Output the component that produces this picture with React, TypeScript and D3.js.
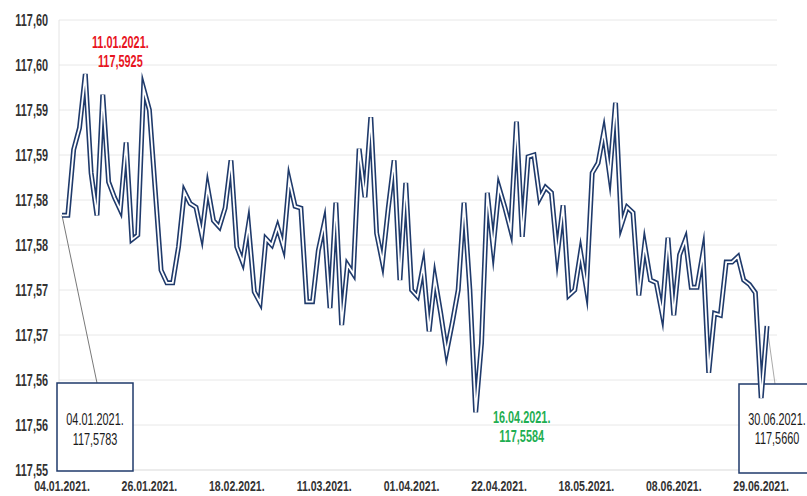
import React from "react";
import * as d3 from "d3";

// EUR/RSD middle rate, business days 04.01.2021 – 30.06.2021
const startDate = "2021-01-04";
const endDate = "2021-06-30";
const holidays = ["2021-01-07", "2021-02-15", "2021-02-16", "2021-04-30", "2021-05-03", "2021-05-04"];

const rates = [
  117.5783, 117.5783, 117.5856, 117.588, 117.594, 117.583, 117.5783, 117.5917, 117.582, 117.5803,
  117.5789, 117.5864, 117.5756, 117.5761, 117.5924, 117.59, 117.5811, 117.5722, 117.5708, 117.5708,
  117.5748, 117.5809, 117.5796, 117.5792, 117.5761, 117.5814, 117.5777, 117.577, 117.5791, 117.5844,
  117.5748, 117.5731, 117.5772, 117.5698, 117.5686, 117.5757, 117.575, 117.577, 117.5748, 117.5822,
  117.5793, 117.5791, 117.5687, 117.5687, 117.5744, 117.5774, 117.568, 117.5797, 117.5661, 117.5728,
  117.5718, 117.5857, 117.5803, 117.5892, 117.5763, 117.5731, 117.5791, 117.5844, 117.5711, 117.5819,
  117.57, 117.5693, 117.5727, 117.5654, 117.5713, 117.5674, 117.5631, 117.5664, 117.57, 117.5797,
  117.57, 117.5564, 117.5641, 117.5808, 117.5747, 117.5814, 117.5792, 117.5767, 117.5887, 117.5759,
  117.5848, 117.585, 117.5802, 117.5814, 117.5808, 117.5739, 117.5794, 117.5694, 117.57, 117.5742,
  117.5702, 117.583, 117.5841, 117.5876, 117.5828, 117.5908, 117.5772, 117.5792, 117.5786, 117.5694,
  117.575, 117.5711, 117.5708, 117.5674, 117.5758, 117.5672, 117.5739, 117.5756, 117.5703, 117.5703,
  117.5741, 117.5608, 117.5674, 117.5672, 117.5731, 117.5731, 117.5737, 117.5711, 117.5706, 117.5697,
  117.558, 117.566,
];

const yTickValues = [117.6, 117.595, 117.59, 117.585, 117.58, 117.575, 117.57, 117.565, 117.56, 117.555, 117.55];
const yTickLabels = ["117,60", "117,60", "117,59", "117,59", "117,58", "117,58", "117,57", "117,57", "117,56", "117,56", "117,55"];
const xTickLabels = ["04.01.2021.", "26.01.2021.", "18.02.2021.", "11.03.2021.", "01.04.2021.", "22.04.2021.", "18.05.2021.", "08.06.2021.", "29.06.2021."];

const maxNote = { date: "11.01.2021.", value: "117,5925" };
const minNote = { date: "16.04.2021.", value: "117,5584" };
const firstNote = { date: "04.01.2021.", value: "117,5783" };
const lastNote = { date: "30.06.2021.", value: "117,5660" };

const parse = d3.timeParse("%Y-%m-%d");
const fmtKey = d3.timeFormat("%Y-%m-%d");
const fmtLabel = d3.timeFormat("%d.%m.%Y.");

const dates: string[] = d3.timeDay
  .range(parse(startDate) as Date, d3.timeDay.offset(parse(endDate) as Date, 1))
  .filter((d) => d.getDay() !== 0 && d.getDay() !== 6 && !holidays.includes(fmtKey(d)))
  .map((d) => fmtLabel(d));

const W = 807;
const H = 496;
const FONT = "'Liberation Sans', Arial, sans-serif";
const SX = 0.68;

function T({ x, y, anchor = "middle", size = 16, weight = 400, fill = "#222", children }: any) {
  return (
    <text
      transform={`translate(${x},${y}) scale(${SX},1)`}
      textAnchor={anchor}
      fontFamily={FONT}
      fontSize={size}
      fontWeight={weight}
      fill={fill}
    >
      {children}
    </text>
  );
}

export default function App() {
  const n = Math.min(dates.length, rates.length);
  const idx = d3.range(n);
  const x = d3.scalePoint<number>().domain(idx).range([62, 767]);
  const y = d3.scaleLinear().domain([117.55, 117.6]).range([470, 20]);
  const plotL = 59;
  const plotR = 777;

  const line = d3
    .line<number>()
    .x((i) => x(i) as number)
    .y((i) => y(rates[i]));
  const path = line(idx) || "";

  const iMax = dates.indexOf(maxNote.date);
  const iMin = dates.indexOf(minNote.date);
  const iFirst = 0;
  const iLast = n - 1;

  const xFirst = x(iFirst) as number;
  const xLast = x(iLast) as number;

  return (
    <svg width={W} height={H} style={{ position: "absolute", left: 0, top: 0, background: "#fff" }}>
      <rect x={0} y={0} width={W} height={H} fill="#fff" />
      {/* grid */}
      {yTickValues.map((v, k) => (
        <line key={"g" + k} x1={plotL} x2={plotR} y1={y(v)} y2={y(v)} stroke={k === yTickValues.length - 1 ? "#d9d9d9" : "#e8e8e8"} strokeWidth={1} />
      ))}
      <line x1={plotL} x2={plotL} y1={y(117.6)} y2={y(117.55)} stroke="#e4e4e4" strokeWidth={1} />

      {/* y labels */}
      {yTickValues.map((v, k) => (
        <T key={"yl" + k} x={48} y={y(v) + 6} anchor="end" weight={700} fill="#333">
          {yTickLabels[k]}
        </T>
      ))}

      {/* x labels */}
      {xTickLabels.map((lab, k) => {
        const i = dates.indexOf(lab);
        if (i < 0) return null;
        return (
          <T key={"xl" + k} x={x(i) as number} y={491} size={15.5} weight={700} fill="#333">
            {lab}
          </T>
        );
      })}

      {/* connectors */}
      <line x1={xFirst} y1={y(rates[iFirst])} x2={97} y2={383} stroke="#555" strokeWidth={0.8} />
      <line x1={xLast} y1={y(rates[iLast])} x2={775} y2={384} stroke="#aaa" strokeWidth={1} />

      {/* boxes */}
      <rect x={57} y={383} width={76} height={88} fill="#fff" stroke="#1f3a6b" strokeWidth={1.5} />
      <rect x={739} y={384} width={80} height={89} fill="#fff" stroke="#1f3a6b" strokeWidth={1.5} />

      {/* series: double line */}
      <path d={path} fill="none" stroke="#1f3a6b" strokeWidth={5} strokeLinejoin="miter" strokeMiterlimit={10} />
      <path d={path} fill="none" stroke="#fff" strokeWidth={1.8} strokeLinejoin="miter" strokeMiterlimit={10} />

      {/* box texts */}
      <T x={95} y={425} fill="#1a1a1a">{firstNote.date}</T>
      <T x={95} y={445} fill="#1a1a1a">{firstNote.value}</T>
      <T x={777} y={425} fill="#1a1a1a">{lastNote.date}</T>
      <T x={777} y={444} fill="#1a1a1a">{lastNote.value}</T>

      {/* max / min notes */}
      {iMax >= 0 && (
        <g>
          <T x={(x(iMax) as number) + 35} y={48} weight={700} fill="#e8141e">{maxNote.date}</T>
          <T x={(x(iMax) as number) + 35} y={67} weight={700} fill="#e8141e">{maxNote.value}</T>
        </g>
      )}
      {iMin >= 0 && (
        <g>
          <T x={(x(iMin) as number) + 46} y={423} weight={700} fill="#1fae52">{minNote.date}</T>
          <T x={(x(iMin) as number) + 46} y={442} weight={700} fill="#1fae52">{minNote.value}</T>
        </g>
      )}
    </svg>
  );
}
